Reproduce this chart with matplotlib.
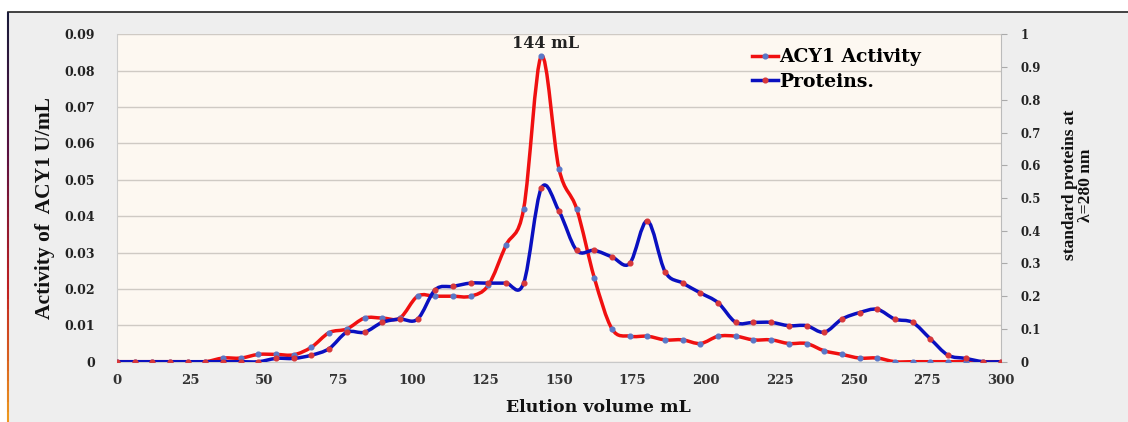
import numpy as np
import matplotlib
matplotlib.use("Agg")
import matplotlib.pyplot as plt
from matplotlib.path import Path
from matplotlib.patches import PathPatch, Rectangle
from matplotlib.lines import Line2D
from matplotlib.collections import LineCollection

# ---------------- data ----------------
volume_ml = [0, 6, 12, 18, 24, 30, 36, 42, 48, 54, 60, 66, 72, 78, 84, 90, 96,
             102, 108, 114, 120, 126, 132, 138, 144, 150, 156, 162, 168, 174,
             180, 186, 192, 198, 204, 210, 216, 222, 228, 234, 240, 246, 252,
             258, 264, 270, 276, 282, 288, 294, 300]
acy1_activity = [0, 0, 0, 0, 0, 0, 0.001, 0.001, 0.002, 0.002, 0.0019, 0.004,
                 0.008, 0.009, 0.012, 0.012, 0.012, 0.018, 0.018, 0.018, 0.018,
                 0.021, 0.032, 0.042, 0.084, 0.053, 0.042, 0.023, 0.009, 0.007,
                 0.007, 0.006, 0.006, 0.005, 0.007, 0.007, 0.006, 0.006, 0.005,
                 0.005, 0.003, 0.002, 0.001, 0.001, 0, 0, 0, 0, 0, 0, 0]
proteins = [0, 0, 0, 0, 0, 0, 0, 0, 0, 0.01, 0.01, 0.02, 0.04, 0.09, 0.09,
            0.12, 0.13, 0.13, 0.22, 0.23, 0.24, 0.24, 0.24, 0.24, 0.53, 0.46,
            0.34, 0.34, 0.32, 0.30, 0.43, 0.275, 0.24, 0.21, 0.18, 0.12, 0.12,
            0.12, 0.11, 0.11, 0.09, 0.13, 0.15, 0.16, 0.13, 0.12, 0.07, 0.02,
            0.01, 0, 0]
left_ticks = [0, 0.01, 0.02, 0.03, 0.04, 0.05, 0.06, 0.07, 0.08, 0.09]
left_tick_labels = ["0", "0.01", "0.02", "0.03", "0.04", "0.05", "0.06",
                    "0.07", "0.08", "0.09"]
right_ticks = [0, 0.1, 0.2, 0.3, 0.4, 0.5, 0.6, 0.7, 0.8, 0.9, 1]
right_tick_labels = ["0", "0.1", "0.2", "0.3", "0.4", "0.5", "0.6", "0.7",
                     "0.8", "0.9", "1"]
x_ticks = [0, 25, 50, 75, 100, 125, 150, 175, 200, 225, 250, 275, 300]
peak_label = "144 mL"
peak_x = 144

RED = "#f01010"
BLUE = "#0a10c0"
RED_MK = "#d8383a"
BLUE_MK = "#5a78c8"
SERIF = ["Liberation Serif", "DejaVu Serif"]
WSERIF = ["DejaVu Serif"]


def smooth_path(xs, ys):
    """Catmull-Rom style smooth curve through the points, as Bezier path."""
    pts = np.column_stack([xs, ys]).astype(float)
    n = len(pts)
    verts = [pts[0]]
    codes = [Path.MOVETO]
    for i in range(n - 1):
        p0 = pts[i - 1] if i > 0 else pts[i]
        p1 = pts[i]
        p2 = pts[i + 1]
        p3 = pts[i + 2] if i + 2 < n else pts[i + 1]
        c1 = p1 + (p2 - p0) / 6.0
        c2 = p2 - (p3 - p1) / 6.0
        verts += [c1, c2, p2]
        codes += [Path.CURVE4] * 3
    return Path(verts, codes)


fig = plt.figure(figsize=(11.28, 4.22), dpi=100)
fig.patch.set_facecolor("white")
W, H = 1128, 422

# figure background panel with border
bg = Rectangle((8 / W, 0), 1, 1 - 12 / H, transform=fig.transFigure,
               facecolor="#eeeeee", edgecolor="none", zorder=-10)
fig.patches.append(bg)
fig.add_artist(Line2D([8 / W, 1], [1 - 12 / H, 1 - 12 / H],
                      transform=fig.transFigure, color="#222222", lw=1.2))
ny = 40
ys = np.linspace(1 - 12 / H, 0, ny + 1)
segs = [[(8 / W, ys[i]), (8 / W, ys[i + 1])] for i in range(ny)]
cmap = matplotlib.colors.LinearSegmentedColormap.from_list(
    "edge", ["#1a1a3a", "#5a1040", "#c02020", "#f0a020"])
lc = LineCollection(segs, colors=[cmap(i / ny) for i in range(ny)],
                    linewidths=1.5, transform=fig.transFigure)
fig.add_artist(lc)

left, right = 117 / W, 1001 / W
bottom, top = 1 - 361.7 / H, 1 - 34.3 / H
ax = fig.add_axes([left, bottom, right - left, top - bottom])
ax.set_facecolor("#fdf8f1")
ax2 = ax.twinx()
ax2.set_zorder(ax.get_zorder() + 1)
ax2.patch.set_visible(False)

ax.set_xlim(0, 300)
ax.set_ylim(0, 0.09)
ax2.set_ylim(0, 1)

# grid
ax.set_yticks(left_ticks)
ax.grid(axis="y", color="#cfcac4", lw=1.0)
ax.set_axisbelow(True)

# curves
p1 = PathPatch(smooth_path(volume_ml, acy1_activity), fill=False,
               edgecolor=RED, lw=2.5, capstyle="round", joinstyle="round",
               zorder=3)
ax.add_patch(p1)
ax.plot(volume_ml, acy1_activity, linestyle="none", marker="o", ms=3.4,
        mfc=BLUE_MK, mec=BLUE_MK, zorder=4)

p2 = PathPatch(smooth_path(volume_ml, proteins), fill=False,
               edgecolor=BLUE, lw=2.5, capstyle="round", joinstyle="round",
               zorder=3)
ax2.add_patch(p2)
ax2.plot(volume_ml, proteins, linestyle="none", marker="o", ms=3.4,
         mfc=RED_MK, mec=RED_MK, zorder=4)

# ticks
ax.set_xticks(x_ticks)
ax.set_xticklabels([str(t) for t in x_ticks], family=WSERIF,
                   fontweight="bold", fontsize=9.5, color="#333333")
ax.set_yticklabels(left_tick_labels, family=WSERIF, fontweight="bold",
                   fontsize=9, color="#222222")
ax.tick_params(axis="x", length=0, pad=9)
ax.tick_params(axis="y", length=0, pad=16)
ax2.set_yticks(right_ticks)
ax2.set_yticklabels(right_tick_labels, family=WSERIF, fontweight="bold",
                    fontsize=8.5, color="#222222")
ax2.tick_params(axis="y", length=4, width=0.8, color="#aaaaaa", pad=10)

ax.spines["top"].set_visible(False)
ax2.spines["top"].set_visible(False)
ax.spines["left"].set_color("#cccccc")
ax.spines["bottom"].set_color("#c8c8c8")
ax.spines["right"].set_visible(False)
ax2.spines["left"].set_visible(False)
ax2.spines["bottom"].set_visible(False)
ax2.spines["right"].set_color("#bbbbbb")

# labels
fig.text(45 / W, 1 - 208 / H, "Activity of  ACY1 U/mL", rotation=90,
         ha="center", va="center", family=SERIF, fontweight="bold",
         fontsize=15.5, color="#111111")
fig.text(598 / W, 1 - 407 / H, "Elution volume mL", ha="center",
         va="center", family=WSERIF, fontweight="bold", fontsize=12.5,
         color="#111111")
fig.text(1078 / W, 1 - 185 / H, "standard proteins at\n\u03bb=280 nm",
         rotation=90, ha="center", va="center", family=SERIF,
         fontweight="bold", fontsize=12.5, color="#111111", linespacing=1.05)

ax.text(peak_x + 1.5, 0.0875, peak_label, ha="center", va="center",
        family=WSERIF, fontweight="bold", fontsize=11.5, color="#222222")

# legend
h1 = Line2D([], [], color=RED, lw=2.5, marker="o", ms=3.4, mfc=BLUE_MK,
            mec=BLUE_MK)
h2 = Line2D([], [], color=BLUE, lw=2.5, marker="o", ms=3.4, mfc=RED_MK,
            mec=RED_MK)
leg = ax2.legend([h1, h2], ["ACY1 Activity", "Proteins."],
                 loc="upper left", bbox_to_anchor=(0.7056, 0.992),
                 frameon=False, handlelength=1.39, handletextpad=0.05,
                 labelspacing=0.35, borderaxespad=0.2,
                 prop={"family": WSERIF, "weight": "bold", "size": 13.5})

fig.savefig("out.png", dpi=100)
